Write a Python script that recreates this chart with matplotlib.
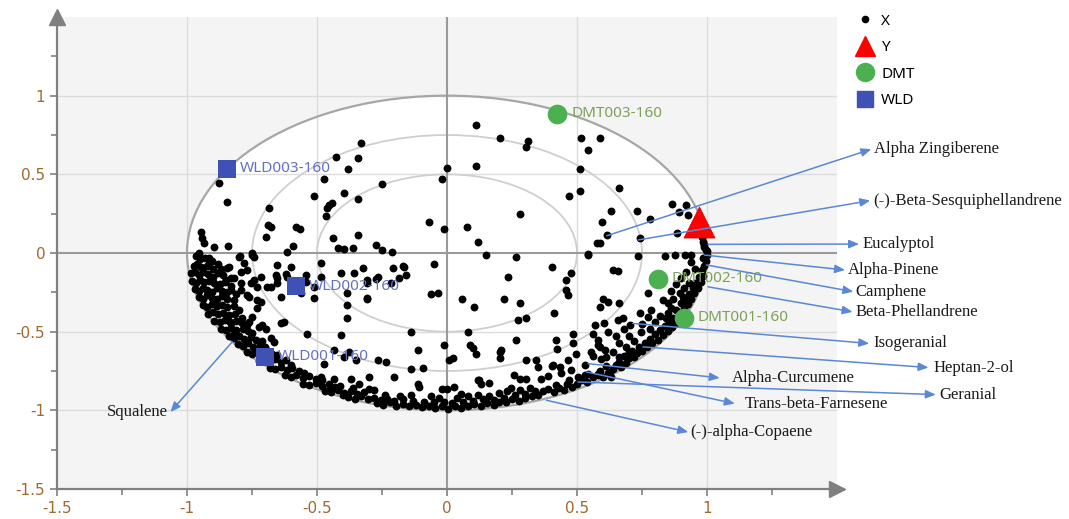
import matplotlib.pyplot as plt
from matplotlib.patches import Ellipse
from matplotlib.lines import Line2D

# X loadings (black dots)
x_loadings = [
    # upper left
    (-0.877, 0.448), (-0.848, 0.325), (-0.685, 0.287), (-0.687, 0.18), (-0.676, 0.168),
    (-0.697, 0.104), (-0.579, 0.168), (-0.566, 0.155), (-0.591, 0.047), (-0.614, 0.008),
    (-0.749, -0.002), (-0.841, 0.047), (-0.897, 0.036), (-0.948, 0.136), (-0.941, 0.093),
    (-0.933, 0.062), (-0.954, 0.0), (-0.511, 0.363), (-0.473, 0.469), (-0.428, 0.607),
    (-0.38, 0.533), (-0.344, 0.603), (-0.396, 0.384), (-0.344, 0.342), (-0.462, 0.285),
    (-0.454, 0.306), (-0.444, 0.316), (-0.464, 0.236), (-0.437, 0.093), (-0.421, 0.03),
    (-0.396, 0.024), (-0.363, 0.03), (-0.344, 0.115), (-0.331, 0.699), (-0.25, 0.441),
    (-0.068, 0.2), (-0.013, 0.151), (-0.021, 0.469), (0.0, 0.54), (-0.274, 0.051),
    (-0.25, 0.019), (-0.213, 0.004), (-0.796, -0.02), (-0.916, -0.034), (-0.957, -0.01),
    # upper right
    (0.112, 0.815), (0.205, 0.728), (0.311, 0.713), (0.304, 0.673), (0.112, 0.554),
    (0.279, 0.246), (0.076, 0.168), (0.118, 0.07), (0.15, -0.015), (0.266, -0.025),
    (0.516, 0.731), (0.587, 0.731), (0.542, 0.652), (0.513, 0.535), (0.513, 0.395),
    (0.468, 0.363), (0.662, 0.412), (0.632, 0.27), (0.597, 0.197), (0.617, 0.113),
    (0.577, 0.062), (0.59, 0.066), (0.731, 0.268), (0.741, 0.093), (0.78, 0.215),
    (0.866, 0.314), (0.921, 0.306), (0.891, 0.263), (0.885, 0.129), (0.928, 0.242),
    (0.542, -0.005), (0.99, 0.04), (1.0, 0.015), (0.966, 0.125), (0.98, 0.10),
    (0.735, -0.02), (0.837, -0.02), (0.876, -0.015), (0.914, -0.01), (0.94, -0.015),
    # lower left, scattered
    (-0.954, -0.013), (-0.916, -0.045), (-0.839, -0.087), (-0.8, -0.023), (-0.749, -0.013),
    (-0.794, -0.119), (-0.832, -0.161), (-0.755, -0.193), (-0.73, -0.215), (-0.652, -0.076),
    (-0.717, -0.151), (-0.659, -0.14), (-0.652, -0.193), (-0.678, -0.215), (-0.614, -0.151),
    (-0.543, -0.14), (-0.486, -0.066), (-0.486, -0.151), (-0.511, -0.289), (-0.383, -0.331),
    (-0.383, -0.416), (-0.408, -0.522), (-0.537, -0.512), (-0.64, -0.444), (-0.749, -0.406),
    (-0.762, -0.437), (-0.711, -0.459), (-0.698, -0.48), (-0.678, -0.543), (-0.666, -0.565),
    (-0.73, -0.30), (-0.717, -0.31), (-0.794, -0.236), (-0.768, -0.268), (-0.64, -0.278),
    (-0.434, -0.618), (-0.396, -0.66), (-0.473, -0.703), (-0.601, -0.087), (-0.408, -0.129),
    (-0.357, -0.129), (-0.306, -0.172), (-0.267, -0.151), (-0.216, -0.193), (-0.209, -0.098),
    (-0.164, -0.087), (-0.158, -0.14), (-0.049, -0.07), (-0.383, -0.257), (-0.306, -0.289),
    (-0.062, -0.263), (-0.036, -0.253), (-0.376, -0.629), (-0.351, -0.682), (-0.267, -0.682),
    (-0.235, -0.692), (-0.139, -0.501), (-0.113, -0.618), (-0.139, -0.735), (-0.094, -0.729),
    (-0.01, -0.586), (0.009, -0.682), (-0.486, -0.788), (-0.434, -0.798), (-0.37, -0.798),
    (-0.3, -0.788), (-0.203, -0.788), (-0.113, -0.83), (-0.107, -0.852), (0.0, -0.862),
    (-0.762, -0.278), (-0.691, -0.215), (-0.73, -0.352), (-0.723, -0.469), (-0.832, -0.448),
    (-0.82, -0.512), (-0.627, -0.437), (-0.601, -0.236), (-0.563, -0.257), (-0.511, -0.215),
    (-0.543, -0.183), (-0.652, -0.161), (-0.62, -0.134), (-0.845, -0.098), (-0.82, -0.161),
    (-0.794, -0.193), (-0.832, -0.236), (-0.768, -0.108), (-0.742, -0.172), (-0.781, -0.066),
    (-0.742, -0.023), (-0.325, -0.098), (-0.171, -0.083), (-0.184, -0.161), (-0.274, -0.168),
    (-0.306, -0.193), (-0.306, -0.295), (-0.338, -0.83),
    # lower left, dense band along the outer ellipse
    (-0.965, -0.02), (-0.95, -0.04), (-0.93, -0.03), (-0.905, -0.05),
    (-0.975, -0.08), (-0.96, -0.07), (-0.945, -0.09), (-0.925, -0.08), (-0.9, -0.1), (-0.88, -0.07),
    (-0.985, -0.13), (-0.97, -0.12), (-0.955, -0.14), (-0.94, -0.12), (-0.92, -0.135),
    (-0.9, -0.15), (-0.88, -0.13), (-0.86, -0.14),
    (-0.98, -0.18), (-0.965, -0.19), (-0.95, -0.17), (-0.935, -0.185), (-0.915, -0.175),
    (-0.895, -0.19), (-0.875, -0.2), (-0.855, -0.185),
    (-0.97, -0.23), (-0.955, -0.24), (-0.94, -0.22), (-0.925, -0.235), (-0.905, -0.245),
    (-0.885, -0.225), (-0.865, -0.24), (-0.845, -0.25),
    (-0.955, -0.28), (-0.94, -0.29), (-0.925, -0.27), (-0.905, -0.285), (-0.885, -0.295),
    (-0.865, -0.275), (-0.845, -0.29), (-0.82, -0.3),
    (-0.94, -0.33), (-0.925, -0.345), (-0.905, -0.325), (-0.885, -0.34), (-0.865, -0.33),
    (-0.845, -0.345), (-0.82, -0.335),
    (-0.92, -0.385), (-0.9, -0.375), (-0.88, -0.39), (-0.86, -0.38), (-0.84, -0.395), (-0.815, -0.385),
    (-0.895, -0.43), (-0.875, -0.44), (-0.855, -0.425), (-0.835, -0.44), (-0.81, -0.43), (-0.79, -0.445),
    (-0.87, -0.48), (-0.85, -0.49), (-0.83, -0.475), (-0.81, -0.49), (-0.785, -0.48), (-0.765, -0.495),
    (-0.84, -0.53), (-0.82, -0.54), (-0.8, -0.525), (-0.78, -0.545), (-0.755, -0.535), (-0.735, -0.55),
    (-0.805, -0.58), (-0.785, -0.59), (-0.765, -0.575), (-0.745, -0.595), (-0.72, -0.585), (-0.7, -0.6),
    (-0.77, -0.63), (-0.75, -0.645), (-0.73, -0.625), (-0.675, -0.64), (-0.655, -0.65),
    (-0.725, -0.685), (-0.68, -0.69), (-0.66, -0.675), (-0.64, -0.695), (-0.62, -0.68),
    (-0.68, -0.73), (-0.66, -0.74), (-0.64, -0.725), (-0.615, -0.745), (-0.595, -0.73), (-0.57, -0.75),
    (-0.625, -0.775), (-0.6, -0.79), (-0.58, -0.775), (-0.555, -0.795), (-0.53, -0.78), (-0.505, -0.8),
    (-0.555, -0.83), (-0.53, -0.84), (-0.505, -0.825), (-0.48, -0.845), (-0.455, -0.835), (-0.43, -0.85),
    (-0.47, -0.875), (-0.445, -0.885), (-0.42, -0.87), (-0.395, -0.89), (-0.37, -0.88),
    (-0.345, -0.895), (-0.32, -0.885),
    (-0.38, -0.915), (-0.355, -0.925), (-0.33, -0.91), (-0.305, -0.93), (-0.28, -0.92),
    (-0.255, -0.935), (-0.23, -0.925), (-0.205, -0.94),
    (-0.27, -0.955), (-0.245, -0.965), (-0.22, -0.95), (-0.195, -0.97), (-0.17, -0.96),
    (-0.145, -0.975), (-0.12, -0.965), (-0.095, -0.98), (-0.07, -0.97), (-0.045, -0.985),
    (-0.02, -0.975), (0.005, -0.99), (0.03, -0.975), (0.055, -0.985),
    (-0.17, -0.93), (-0.13, -0.94), (-0.09, -0.945), (-0.05, -0.95), (-0.01, -0.945),
    (0.02, -0.955), (0.06, -0.95),
    (-0.45, -0.86), (-0.4, -0.9), (-0.36, -0.86), (-0.28, -0.87), (-0.24, -0.9), (-0.18, -0.91),
    (-0.14, -0.9), (-0.06, -0.91), (-0.03, -0.92), (0.04, -0.92), (0.08, -0.91), (0.12, -0.9),
    (0.16, -0.91), (0.2, -0.89), (0.23, -0.88), (0.28, -0.87), (0.32, -0.86), (0.36, -0.8),
    (0.39, -0.78), (0.44, -0.76),
    (-0.91, -0.06), (-0.87, -0.1), (-0.85, -0.17), (-0.83, -0.21), (-0.81, -0.26), (-0.8, -0.36),
    (-0.79, -0.41), (-0.77, -0.46), (-0.75, -0.51), (-0.71, -0.56), (-0.69, -0.62), (-0.6, -0.71),
    (-0.55, -0.76), (-0.48, -0.81), (-0.41, -0.845), (-0.3, -0.865),
    # lower right, scattered
    (0.234, -0.151), (0.058, -0.295), (0.105, -0.342), (0.218, -0.295), (0.279, -0.32),
    (0.272, -0.427), (0.304, -0.412), (0.082, -0.501), (0.09, -0.586), (0.099, -0.601),
    (0.022, -0.665), (0.112, -0.643), (0.202, -0.629), (0.204, -0.665), (0.266, -0.554),
    (0.304, -0.677), (0.343, -0.682), (-0.019, -0.862), (0.026, -0.852), (0.124, -0.809),
    (0.163, -0.826), (0.259, -0.777), (0.279, -0.798), (0.304, -0.798), (0.247, -0.858),
    (0.542, -0.013), (0.403, -0.087), (0.478, -0.129), (0.459, -0.172), (0.459, -0.236),
    (0.465, -0.268), (0.638, -0.108), (0.658, -0.113), (0.411, -0.38), (0.6, -0.295),
    (0.619, -0.31), (0.587, -0.342), (0.662, -0.32), (0.773, -0.253), (0.741, -0.384),
    (0.786, -0.363), (0.773, -0.406), (0.85, -0.32), (0.863, -0.352), (0.895, -0.257),
    (0.908, -0.278), (0.844, -0.416), (0.658, -0.427), (0.677, -0.416), (0.604, -0.448),
    (0.568, -0.459), (0.703, -0.459), (0.484, -0.512), (0.484, -0.575), (0.42, -0.55),
    (0.424, -0.607), (0.561, -0.512), (0.581, -0.554), (0.581, -0.586), (0.349, -0.724),
    (0.403, -0.72), (0.465, -0.682), (0.497, -0.639), (0.529, -0.713), (0.561, -0.656),
    (0.593, -0.671), (0.478, -0.745), (0.504, -0.788), (0.542, -0.766), (0.581, -0.777),
    (0.625, -0.756), (0.632, -0.788), (0.407, -0.713), (0.433, -0.724), (0.208, -0.618),
    (0.555, -0.629), (0.587, -0.597), (0.606, -0.618), (0.118, -0.809), (0.131, -0.834),
    (0.054, -0.894),
    (0.62, -0.5), (0.65, -0.53), (0.68, -0.48), (0.7, -0.53), (0.66, -0.57), (0.72, -0.56),
    (0.745, -0.5), (0.69, -0.6), (0.64, -0.63), (0.61, -0.66), (0.66, -0.66), (0.7, -0.63),
    (0.75, -0.45), (0.8, -0.44), (0.78, -0.48), (0.82, -0.4), (0.85, -0.38), (0.83, -0.3),
    (0.86, -0.24), (0.88, -0.2), (0.9, -0.16), (0.92, -0.12), (0.94, -0.06), (0.955, -0.1),
    (0.93, -0.19), (0.91, -0.22), (0.87, -0.29),
    # lower right, dense band
    (0.08, -0.97), (0.105, -0.96), (0.13, -0.975), (0.155, -0.955), (0.18, -0.965), (0.2, -0.95),
    (0.1, -0.94), (0.14, -0.93), (0.18, -0.935), (0.225, -0.945), (0.25, -0.93), (0.275, -0.94),
    (0.3, -0.92), (0.22, -0.92), (0.26, -0.905), (0.3, -0.895), (0.325, -0.91), (0.35, -0.9),
    (0.37, -0.88), (0.34, -0.875), (0.39, -0.865), (0.41, -0.885), (0.43, -0.86), (0.45, -0.87),
    (0.42, -0.84), (0.46, -0.835), (0.48, -0.85), (0.5, -0.83), (0.47, -0.81), (0.52, -0.805),
    (0.54, -0.82), (0.56, -0.79), (0.53, -0.775), (0.58, -0.77), (0.6, -0.785), (0.59, -0.75),
    (0.62, -0.76), (0.64, -0.74), (0.61, -0.72), (0.65, -0.715), (0.67, -0.725), (0.66, -0.69),
    (0.69, -0.7), (0.7, -0.67), (0.68, -0.655), (0.72, -0.66), (0.73, -0.635), (0.71, -0.62),
    (0.75, -0.62), (0.74, -0.595), (0.77, -0.6), (0.76, -0.57), (0.79, -0.575), (0.78, -0.545),
    (0.81, -0.55), (0.8, -0.515), (0.83, -0.52), (0.82, -0.49), (0.85, -0.495), (0.84, -0.465),
    (0.865, -0.47), (0.855, -0.44), (0.88, -0.445), (0.87, -0.41), (0.895, -0.38), (0.88, -0.36),
    (0.91, -0.35), (0.9, -0.32), (0.925, -0.325), (0.915, -0.29), (0.94, -0.295), (0.93, -0.26),
    (0.95, -0.255), (0.945, -0.225), (0.965, -0.22), (0.955, -0.19), (0.975, -0.185), (0.97, -0.15),
    (0.985, -0.145), (0.98, -0.11), (0.99, -0.08), (0.995, -0.05), (0.985, -0.03), (1.0, -0.01),
    (0.995, 0.02), (0.99, 0.05), (0.985, 0.07),
]

# Y response and sample scores
y_point = (0.971, 0.197)
dmt_names = ["DMT003-160", "DMT002-160", "DMT001-160"]
dmt_x = [0.424, 0.81, 0.91]
dmt_y = [0.885, -0.165, -0.41]
wld_names = ["WLD003-160", "WLD002-160", "WLD001-160"]
wld_x = [-0.845, -0.58, -0.70]
wld_y = [0.535, -0.21, -0.66]

# annotated variables: name, loading the arrow starts from
var_names = ["Alpha Zingiberene", "(-)-Beta-Sesquiphellandrene", "Eucalyptol", "Alpha-Pinene",
             "Camphene", "Beta-Phellandrene", "Isogeranial", "Heptan-2-ol", "Alpha-Curcumene",
             "Geranial", "Trans-beta-Farnesene", "(-)-alpha-Copaene", "Squalene"]
var_x = [0.615, 0.735, 1.004, 0.99, 0.998, 1.004, 0.715, 0.754, 0.542, 0.504, 0.536, 0.382, -0.826]
var_y = [0.11, 0.083, 0.055, -0.013, -0.076, -0.215, -0.448, -0.597, -0.703, -0.82, -0.756, -0.936, -0.565]
# where each label sits (arrow tip), data units
label_x = [1.632, 1.628, 1.585, 1.531, 1.563, 1.56, 1.624, 1.852, 1.049, 1.88, 1.107, 0.928, -1.064]
label_y = [0.66, 0.333, 0.057, -0.108, -0.246, -0.374, -0.575, -0.728, -0.794, -0.9, -0.957, -1.138, -1.011]
label_gap = [0.012, 0.012, 0.012, 0.01, 0.008, 0.01, 0.016, 0.02, 0.045, 0.014, 0.04, 0.008, -0.008]

tick_vals = [-1.5, -1, -0.5, 0, 0.5, 1]
tick_text = ["-1.5", "-1", "-0.5", "0", "0.5", "1"]

fig = plt.figure(figsize=(10.69, 5.19), dpi=100)
ax = fig.add_axes([57 / 1069, 30 / 519, 780 / 1069, 472 / 519])
ax.set_facecolor("#f4f4f4")
ax.set_xlim(-1.5, 1.5)
ax.set_ylim(-1.5, 1.5)

# white inside of the outer ellipse, then the three rings
ax.add_patch(Ellipse((0, 0), 2, 2, facecolor="white", edgecolor="none", zorder=0.5))
for r, col, lw in [(1.0, "#a6a6a6", 1.6), (0.75, "#cfcfcf", 1.3), (0.5, "#cfcfcf", 1.3)]:
    ax.add_patch(Ellipse((0, 0), 2 * r, 2 * r, fill=False, edgecolor=col, lw=lw, zorder=1.2))

for v in [-1, -0.5, 0.5, 1]:
    ax.axvline(v, color="#dcdcdc", lw=1, zorder=1)
    ax.axhline(v, color="#dcdcdc", lw=1, zorder=1)
ax.axvline(0, color="#9a9a9a", lw=1.5, zorder=1.5)
ax.axhline(0, color="#9a9a9a", lw=1.5, zorder=1.5)

for s in ["top", "right"]:
    ax.spines[s].set_visible(False)
for s in ["left", "bottom"]:
    ax.spines[s].set_color("#808080")
    ax.spines[s].set_linewidth(1.6)
ax.plot([-1.5], [1.5], marker="^", ms=11, color="#808080", clip_on=False, zorder=6)
ax.plot([1.5], [-1.5], marker=">", ms=11, color="#808080", clip_on=False, zorder=6)

ax.set_xticks(tick_vals)
ax.set_xticklabels(tick_text)
ax.set_yticks(tick_vals)
ax.set_yticklabels(tick_text)
ax.set_xticks([-1.25, -0.75, -0.25, 0.25, 0.75, 1.25], minor=True)
ax.set_yticks([-1.25, -0.75, -0.25, 0.25, 0.75, 1.25], minor=True)
ax.tick_params(which="both", direction="out", color="#808080", width=1.2,
               labelcolor="#a06a2c", labelsize=11)
ax.tick_params(which="major", length=5)
ax.tick_params(which="minor", length=4)

xs = [p[0] for p in x_loadings]
ys = [p[1] for p in x_loadings]
ax.scatter(xs, ys, s=32, color="black", linewidths=0, zorder=3)
ax.scatter([y_point[0]], [y_point[1]], marker="^", s=500, color="#ff0000",
           edgecolors="#d00000", linewidths=0.5, zorder=4)
ax.scatter(dmt_x, dmt_y, marker="o", s=200, color="#4caf50", linewidths=0, zorder=4)
ax.scatter(wld_x, wld_y, marker="s", s=155, color="#3f51b5", linewidths=0, zorder=4)

for name, x, y in zip(dmt_names, dmt_x, dmt_y):
    ax.annotate(name, (x, y), xytext=(10, 0), textcoords="offset points", va="center",
                fontsize=11, color="#7fa05a", family="Noto Sans", zorder=4)
for name, x, y in zip(wld_names, wld_x, wld_y):
    ax.annotate(name, (x, y), xytext=(9, 0), textcoords="offset points", va="center",
                fontsize=11, color="#6470c0", family="Noto Sans", zorder=4)

for i, name in enumerate(var_names):
    ax.annotate("", xy=(label_x[i], label_y[i]), xytext=(var_x[i], var_y[i]),
                arrowprops=dict(arrowstyle="-|>,head_length=0.6,head_width=0.25",
                                color="#5a88d6", lw=1.1, shrinkA=0, shrinkB=0),
                annotation_clip=False, zorder=5)
    ha = "right" if label_gap[i] < 0 else "left"
    ax.text(label_x[i] + label_gap[i], label_y[i], name, ha=ha, va="center",
            fontsize=12, family="Liberation Serif", color="#1a1a1a", clip_on=False, zorder=5)

handles = [
    Line2D([], [], ls="none", marker="o", ms=4.5, color="black"),
    Line2D([], [], ls="none", marker="^", ms=15, color="#ff0000"),
    Line2D([], [], ls="none", marker="o", ms=13, color="#4caf50"),
    Line2D([], [], ls="none", marker="s", ms=11, color="#3f51b5"),
]
fig.legend(handles, ["X", "Y", "DMT", "WLD"], loc="upper left",
           bbox_to_anchor=(840 / 1069, 1.0), frameon=False,
           labelspacing=0.75, handletextpad=0.3, handlelength=1.5,
           prop={"family": "Noto Sans", "size": 11})

fig.savefig("out.png", dpi=100)
